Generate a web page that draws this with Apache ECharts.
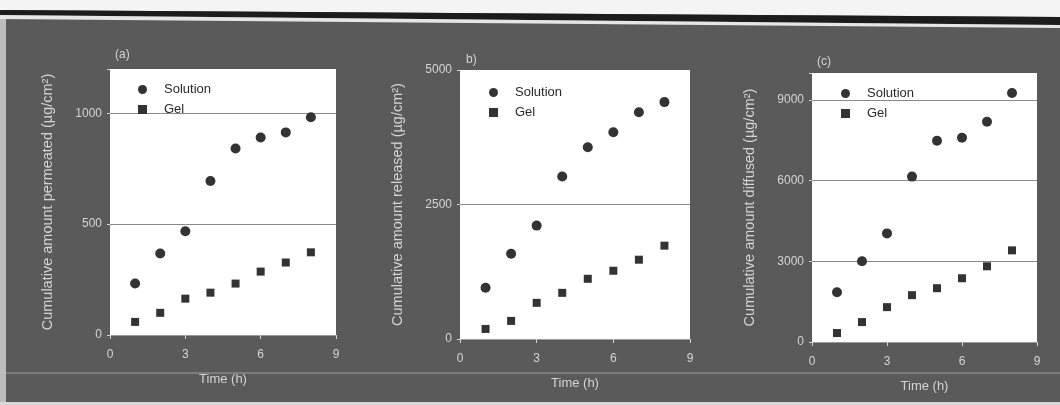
<!DOCTYPE html>
<html>
<head>
<meta charset="utf-8">
<script src="https://cdn.jsdelivr.net/npm/echarts@6/dist/echarts.min.js"></script>
<style>
  html, body { margin: 0; padding: 0; background: #5a5a5a; }
  #chart { width: 1060px; height: 405px; }
</style>
</head>
<body>
<div id="chart"></div>
<script>
// Sampling times (h), shared by all three panels
const timeH = [1, 2, 3, 4, 5, 6, 7, 8];

// Panel (a)
const solutionA = [232, 368, 468, 695, 841, 891, 914, 982];
const gelA = [59, 100, 164, 191, 232, 286, 327, 373];

// Panel (b)
const solutionB = [951, 1586, 2108, 3022, 3563, 3843, 4216, 4403];
const gelB = [187, 336, 672, 858, 1119, 1269, 1474, 1735];

// Panel (c)
const solutionC = [1852, 3000, 4037, 6148, 7481, 7593, 8185, 9259];
const gelC = [333, 741, 1296, 1741, 2000, 2370, 2815, 3407];

const panelLabels = ['(a)', 'b)', '(c)'];
const yTitles = [
  'Cumulative amount permeated (\u00b5g/cm\u00b2)',
  'Cumulative amount released (\u00b5g/cm\u00b2)',
  'Cumulative amount diffused (\u00b5g/cm\u00b2)'
];
const xTitle = 'Time (h)';
const yMax = [1200, 5000, 10000];
const yStep = [500, 2500, 3000];
const xTickStep = 3;
const xMax = 9;

const panels = [
  { grid: { left: 110, top: 69, width: 226, height: 266 }, legend: { left: 133, top: 77 }, label: { left: 110, top: 44 } },
  { grid: { left: 460, top: 70, width: 230, height: 269 }, legend: { left: 484, top: 80 }, label: { left: 461, top: 49 } },
  { grid: { left: 812, top: 73, width: 225, height: 269 }, legend: { left: 836, top: 81 }, label: { left: 812, top: 51 } }
];

const seriesData = [[solutionA, gelA], [solutionB, gelB], [solutionC, gelC]];

const faint = '#d4d4d4';
const markColor = '#333333';

const grids = [], xAxes = [], yAxes = [], series = [], legends = [], titles = [];

panels.forEach((p, i) => {
  grids.push(Object.assign({ show: true, backgroundColor: '#ffffff', borderWidth: 0 }, p.grid));

  xAxes.push({
    gridIndex: i, type: 'value', min: 0, max: xMax, interval: xTickStep,
    name: xTitle, nameLocation: 'middle', nameGap: 38,
    nameTextStyle: { color: faint, fontSize: 13, fontFamily: 'Liberation Sans' },
    axisLine: { show: true, lineStyle: { color: '#9a9a9a', width: 1 } },
    axisTick: { show: true, length: 4, lineStyle: { color: faint } },
    axisLabel: { color: faint, fontSize: 12, margin: 14, fontFamily: 'Liberation Sans' },
    splitLine: { show: false }
  });

  yAxes.push({
    gridIndex: i, type: 'value', min: 0, max: yMax[i], interval: yStep[i],
    name: yTitles[i], nameLocation: 'middle', nameGap: 55,
    nameTextStyle: { color: faint, fontSize: 14.5, fontFamily: 'Liberation Sans' },
    axisLine: { show: false },
    axisTick: { show: true, length: 3, lineStyle: { color: faint } },
    axisLabel: {
      color: faint, fontSize: 12, margin: 8, fontFamily: 'Liberation Sans',
      formatter: v => (v % yStep[i] === 0 ? String(v) : '')
    },
    splitLine: { show: true, showMinLine: false, showMaxLine: false, lineStyle: { color: '#8a8a8a', width: 1.2 } }
  });

  const [sol, gel] = seriesData[i];
  series.push({
    name: 'Solution', type: 'scatter', xAxisIndex: i, yAxisIndex: i,
    symbol: 'circle', symbolSize: 10,
    itemStyle: { color: markColor, opacity: 1 },
    data: timeH.map((t, k) => [t, sol[k]])
  });
  series.push({
    name: 'Gel', type: 'scatter', xAxisIndex: i, yAxisIndex: i,
    symbol: 'rect', symbolSize: 8,
    itemStyle: { color: markColor, opacity: 1 },
    data: timeH.map((t, k) => [t, gel[k]])
  });

  legends.push({
    left: p.legend.left, top: p.legend.top, orient: 'vertical',
    itemWidth: 9, itemHeight: 9, itemGap: 5,
    selectedMode: false,
    data: [{ name: 'Solution', icon: 'circle' }, { name: 'Gel', icon: 'rect' }],
    textStyle: { color: '#2a2a2a', fontSize: 13, fontFamily: 'Liberation Sans', padding: [0, 0, 0, 12], lineHeight: 15 }
  });

  titles.push({
    text: panelLabels[i], left: p.label.left, top: p.label.top,
    textStyle: { color: faint, fontSize: 12, fontWeight: 'normal', fontFamily: 'Liberation Sans' }
  });
});

const chart = echarts.init(document.getElementById('chart'), null, { renderer: 'canvas' });
chart.setOption({
  animation: false,
  backgroundColor: '#5a5a5a',
  title: titles,
  legend: legends,
  grid: grids,
  xAxis: xAxes,
  yAxis: yAxes,
  series: series,
  graphic: [
    // page edge above the figure
    { type: 'polygon', silent: true, z: -1, shape: { points: [[0, 0], [1060, 0], [1060, 17], [0, 10]] }, style: { fill: '#f4f4f4' } },
    // heavy rule across the top
    { type: 'polygon', silent: true, z: -1, shape: { points: [[0, 10], [1060, 17], [1060, 25], [0, 15]] }, style: { fill: '#1c1c1c' } },
    { type: 'polygon', silent: true, z: -1, shape: { points: [[0, 15], [1060, 25], [1060, 28], [0, 19]] }, style: { fill: '#e6e6e6' } },
    // left margin of the page
    { type: 'rect', silent: true, z: -1, shape: { x: 0, y: 19, width: 6, height: 386 }, style: { fill: '#bdbdbd' } },
    // faint streak below the tick labels
    { type: 'rect', silent: true, z: -1, shape: { x: 6, y: 372, width: 1054, height: 2 }, style: { fill: '#7c7c7c' } },
    // bottom page edge
    { type: 'rect', silent: true, z: -1, shape: { x: 0, y: 402, width: 1060, height: 3 }, style: { fill: '#d8d8d8' } }
  ]
});
</script>
</body>
</html>
